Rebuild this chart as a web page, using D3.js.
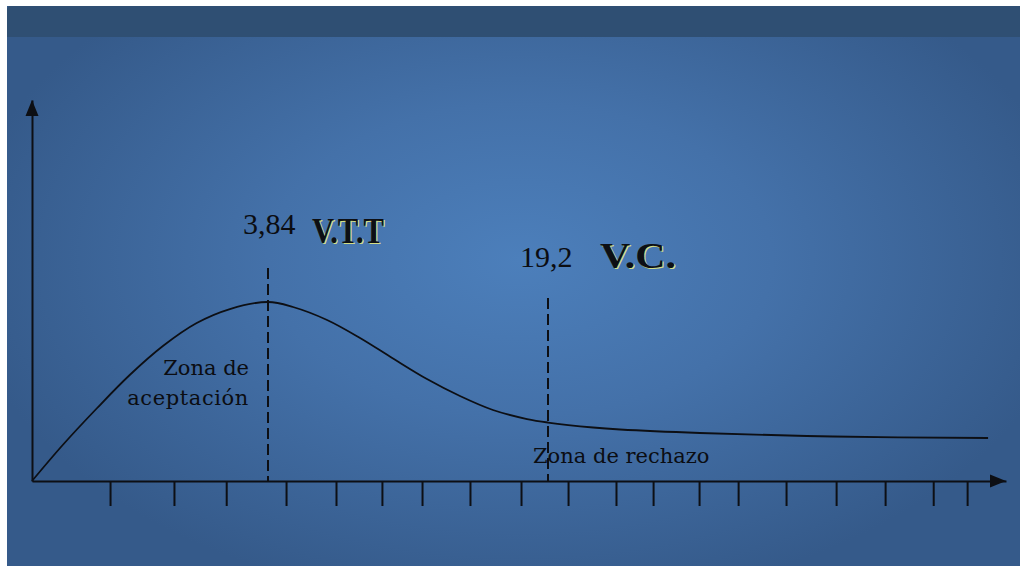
<!DOCTYPE html>
<html>
<head>
<meta charset="utf-8">
<script src="https://cdn.jsdelivr.net/npm/d3@7"></script>
<style>
  html, body { margin: 0; padding: 0; background: #ffffff; }
  svg { display: block; }
</style>
</head>
<body>
<svg id="chart" width="1020" height="566"></svg>
<script>
// Density curve of the test statistic (x in statistic units, y in relative height)
const curveX = [0, 0.50, 1.06, 1.59, 2.13, 2.68, 3.22, 3.84, 5.21, 7.08, 8.89, 10.70, 12.56, 14.37, 16.18, 18.05, 19.2, 21.74, 23.26, 27.76, 35.25, 43.99];
const curveY = [0, 9.45, 19.16, 27.82, 35.43, 41.47, 45.14, 46.98, 45.67, 42.26, 37.53, 32.15, 26.77, 22.31, 18.64, 16.27, 15.35, 14.04, 13.52, 12.60, 11.68, 11.29];

// Tick marks along the horizontal axis
const tickValues = [1.27, 2.31, 3.16, 4.83, 7.57, 10.09, 12.29, 14.92, 17.72, 20.33, 23.03, 25.12, 27.71, 29.91, 32.61, 35.43, 38.19, 40.90, 42.81];

// Critical values and their markers
const criticalValues = [3.84, 19.2];
const criticalLabels = ["3,84", "19,2"];
const criticalNames = ["V.T.T", "V.C."];
const criticalHeights = [55.9, 48.0];

// Zone annotations
const acceptLines = ["Zona de", "aceptación"];
const rejectLabel = "Zona de rechazo";

const W = 1020, H = 566;
const svg = d3.select("#chart");
const defs = svg.append("defs");

// Background gradient
const grad = defs.append("radialGradient")
  .attr("id", "bg")
  .attr("gradientUnits", "userSpaceOnUse")
  .attr("cx", 520).attr("cy", 260).attr("r", 560)
  .attr("gradientTransform", "translate(520,260) scale(1,0.62) translate(-520,-260)");
grad.append("stop").attr("offset", "0%").attr("stop-color", "#4c7fbb");
grad.append("stop").attr("offset", "45%").attr("stop-color", "#4471a9");
grad.append("stop").attr("offset", "100%").attr("stop-color", "#355a8a");

svg.append("rect").attr("x", 7).attr("y", 6).attr("width", W - 7).attr("height", H - 6)
  .attr("fill", "url(#bg)");
svg.append("path")
  .attr("d", "M7,10 Q7,6 11,6 L1020,6 L1020,37 L7,37 Z")
  .attr("fill", "#2f4f73");

const x = d3.scaleLinear().domain([0, 3.84, 19.2, 45]).range([32, 268, 548, 1006]);
const y = d3.scaleLinear().domain([0, 100]).range([481, 100]);

const ink = "#0d0f14";

// Horizontal axis with ticks
const xAxis = svg.append("g")
  .attr("transform", `translate(0,${y(0)})`)
  .call(d3.axisBottom(x).tickValues(tickValues).tickSize(25).tickSizeOuter(0).tickFormat(""));
xAxis.select(".domain").attr("stroke", ink).attr("stroke-width", 2);
xAxis.selectAll(".tick line").attr("stroke", ink).attr("stroke-width", 2);

// Vertical axis
const yAxis = svg.append("g")
  .attr("transform", `translate(${x(0)},0)`)
  .call(d3.axisLeft(y).tickValues([]).tickSizeOuter(0));
yAxis.select(".domain").attr("stroke", ink).attr("stroke-width", 2);

// Arrowheads
const xEnd = x.range()[x.range().length - 1];
svg.append("path")
  .attr("d", `M${xEnd},${y(0)} L${xEnd - 16},${y(0) - 6.5} L${xEnd - 16},${y(0) + 6.5} Z`)
  .attr("fill", ink);
svg.append("path")
  .attr("d", `M${x(0)},${y(100)} L${x(0) - 6.5},${y(100) + 16} L${x(0) + 6.5},${y(100) + 16} Z`)
  .attr("fill", ink);

// Critical value dashed lines
svg.selectAll("line.crit")
  .data(criticalValues)
  .join("line")
  .attr("class", "crit")
  .attr("x1", d => x(d)).attr("x2", d => x(d))
  .attr("y1", (d, i) => y(criticalHeights[i])).attr("y2", y(0))
  .attr("stroke", ink).attr("stroke-width", 2)
  .attr("stroke-dasharray", "11,5");

// Density curve
const pts = curveX.map((d, i) => [d, curveY[i]]);
svg.append("path")
  .datum(pts)
  .attr("fill", "none")
  .attr("stroke", ink)
  .attr("stroke-width", 1.8)
  .attr("d", d3.line().x(d => x(d[0])).y(d => y(d[1])).curve(d3.curveCatmullRom.alpha(0.5)));

// Critical value numbers
const numOffsets = [[-25, 234], [-28, 267]];
svg.selectAll("text.num")
  .data(criticalValues)
  .join("text")
  .attr("class", "num")
  .attr("x", (d, i) => x(d) + numOffsets[i][0])
  .attr("y", (d, i) => numOffsets[i][1])
  .attr("font-family", "Liberation Serif, serif")
  .attr("font-size", 30)
  .attr("fill", "#0b0d12")
  .text((d, i) => criticalLabels[i]);

// Critical value names, with a light shadow
const namePos = [[312, 243, 72], [600, 268, 76]];
[["#d3de86", 1.2], [ink, 0]].forEach(([col, off]) => {
  svg.selectAll(null)
    .data(criticalNames)
    .join("text")
    .attr("x", (d, i) => namePos[i][0] + off)
    .attr("y", (d, i) => namePos[i][1] + off)
    .attr("textLength", (d, i) => namePos[i][2])
    .attr("lengthAdjust", "spacingAndGlyphs")
    .attr("font-family", "Liberation Serif, serif")
    .attr("font-weight", "bold")
    .attr("font-size", 36)
    .attr("fill", col)
    .text(d => d);
});

// Zone labels
const zoneFont = "DejaVu Serif, serif";
svg.selectAll("text.accept")
  .data(acceptLines)
  .join("text")
  .attr("class", "accept")
  .attr("x", 249)
  .attr("y", (d, i) => 375 + i * 30)
  .attr("text-anchor", "end")
  .attr("font-family", zoneFont)
  .attr("font-size", 21)
  .attr("letter-spacing", (d, i) => i === 1 ? 0.6 : 0)
  .attr("fill", "#0b0d12")
  .text(d => d);

svg.append("text")
  .attr("x", 533)
  .attr("y", 463)
  .attr("font-family", zoneFont)
  .attr("font-size", 21)
  .attr("fill", "#0b0d12")
  .text(rejectLabel);
</script>
</body>
</html>
